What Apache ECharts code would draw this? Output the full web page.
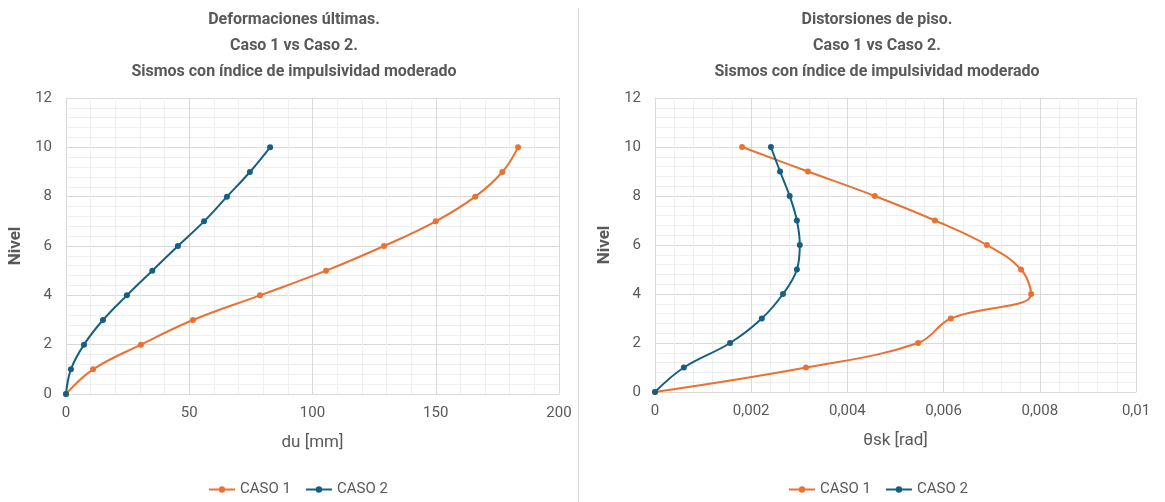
<!DOCTYPE html>
<html>
<head>
<meta charset="utf-8">
<script src="https://cdn.jsdelivr.net/npm/echarts@6/dist/echarts.min.js"></script>
<style>
  html, body { margin: 0; padding: 0; background: #fff; }
  #chart { width: 1165px; height: 502px; }
</style>
</head>
<body>
<div id="chart"></div>
<script>
// niveles (eje vertical)
const niveles = [0, 1, 2, 3, 4, 5, 6, 7, 8, 9, 10];

// Deformaciones últimas, du [mm]
const du_caso1 = [0, 11, 30.4, 51.5, 78.7, 105.5, 129, 150, 166, 177, 183.4];
const du_caso2 = [0, 2, 7.3, 15, 24.7, 35, 45.4, 56, 65.3, 74.6, 82.8];

// Distorsiones de piso, θsk [rad]
const th_caso1 = [0, 0.00314, 0.00547, 0.00615, 0.00782, 0.00761, 0.0069, 0.00582, 0.00457, 0.00318, 0.00181];
const th_caso2 = [0, 0.0006, 0.00156, 0.00222, 0.00266, 0.00295, 0.00301, 0.00295, 0.0028, 0.0026, 0.00241];

const titulos = [
  'Deformaciones últimas.\nCaso 1 vs Caso 2.\nSismos con índice de impulsividad moderado',
  'Distorsiones de piso.\nCaso 1 vs Caso 2.\nSismos con índice de impulsividad moderado'
];

const naranja = '#E97132';
const azul = '#156082';
const gris = '#595959';
const fuente = 'Roboto, "Open Sans", sans-serif';

const pares = (xs) => xs.map((x, i) => [x, niveles[i]]);

function serie(name, data, color, idx) {
  return {
    name: name,
    type: 'line',
    xAxisIndex: idx,
    yAxisIndex: idx,
    data: data,
    smooth: 0.4,
    symbol: 'circle',
    symbolSize: 6,
    lineStyle: { color: color, width: 2 },
    itemStyle: { color: color },
    z: name === 'CASO 2' ? 3 : 2
  };
}

function ejeX(idx, max, interval, name, fmt) {
  return {
    type: 'value',
    gridIndex: idx,
    min: 0, max: max, interval: interval,
    name: name,
    nameLocation: 'middle',
    nameGap: 40,
    nameTextStyle: { color: gris, fontSize: 17, fontFamily: fuente },
    axisLine: { show: true, lineStyle: { color: '#d9d9d9' } },
    axisTick: { show: false },
    axisLabel: { color: gris, fontSize: 15, fontFamily: fuente, margin: 12, formatter: fmt },
    splitLine: { show: true, lineStyle: { color: '#d9d9d9' } },
    minorTick: { show: false, splitNumber: 5 },
    minorSplitLine: { show: true, lineStyle: { color: '#efefef' } }
  };
}

function ejeY(idx) {
  return {
    type: 'value',
    gridIndex: idx,
    min: 0, max: 12, interval: 2,
    name: 'Nivel',
    nameLocation: 'middle',
    nameGap: 42,
    nameTextStyle: { color: gris, fontSize: 17, fontWeight: 'bold', fontFamily: fuente },
    axisLine: { show: true, lineStyle: { color: '#d9d9d9' } },
    axisTick: { show: false },
    axisLabel: { color: gris, fontSize: 15, fontFamily: fuente, margin: 14 },
    splitLine: { show: true, lineStyle: { color: '#d9d9d9' } },
    minorTick: { show: false, splitNumber: 5 },
    minorSplitLine: { show: true, lineStyle: { color: '#efefef' } }
  };
}

const chart = echarts.init(document.getElementById('chart'));

const option = {
  backgroundColor: '#fff',
  animation: false,
  title: [
    {
      text: titulos[0], left: 289, top: 2, textAlign: 'center',
      textStyle: { color: gris, fontSize: 16, fontWeight: 'bold', fontFamily: fuente, lineHeight: 26 }
    },
    {
      text: titulos[1], left: 872, top: 2, textAlign: 'center',
      textStyle: { color: gris, fontSize: 16, fontWeight: 'bold', fontFamily: fuente, lineHeight: 26 }
    }
  ],
  legend: [
    {
      left: 203, top: 477,
      data: ['CASO 1', 'CASO 2'],
      itemWidth: 26, itemHeight: 8, itemGap: 14,
      textStyle: { color: gris, fontSize: 15, fontFamily: fuente },
      selectedMode: false
    },
    {
      left: 783, top: 477,
      data: ['CASO 1', 'CASO 2'],
      itemWidth: 26, itemHeight: 8, itemGap: 14,
      textStyle: { color: gris, fontSize: 15, fontFamily: fuente },
      selectedMode: false
    }
  ],
  grid: [
    { left: 66, right: 606, top: 98, bottom: 108 },
    { left: 655, right: 29, top: 98, bottom: 110 }
  ],
  xAxis: [
    ejeX(0, 200, 50, 'du [mm]'),
    ejeX(1, 0.01, 0.002, 'θsk [rad]', (v) => String(+v.toFixed(4)).replace('.', ','))
  ],
  yAxis: [ejeY(0), ejeY(1)],
  graphic: [
    {
      type: 'line',
      shape: { x1: 578.5, y1: 8, x2: 578.5, y2: 502 },
      style: { stroke: '#d9d9d9', lineWidth: 1 }
    }
  ],
  series: [
    serie('CASO 1', pares(du_caso1), naranja, 0),
    serie('CASO 2', pares(du_caso2), azul, 0),
    serie('CASO 1', pares(th_caso1), naranja, 1),
    serie('CASO 2', pares(th_caso2), azul, 1)
  ]
};

chart.setOption(option);
</script>
</body>
</html>
